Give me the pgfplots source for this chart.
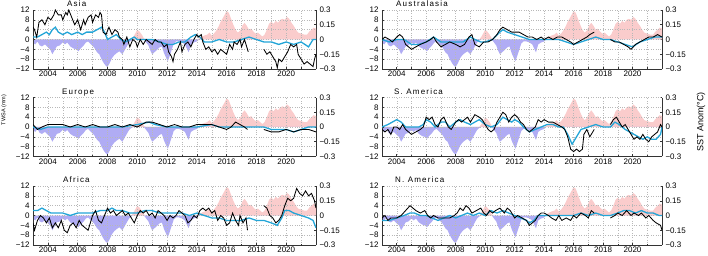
\documentclass[border=0pt]{standalone}
\usepackage{fontspec}
\setmainfont{Liberation Sans}
\newfontfamily\titlefont[LetterSpace=15]{Liberation Sans}
\usepackage{pgfplots}
\usepackage{pgfplotstable}
\pgfplotsset{compat=1.18}
\definecolor{sstpos}{RGB}{250,204,204}
\definecolor{sstneg}{RGB}{176,172,244}
\definecolor{cyanl}{RGB}{35,165,215}

\pgfplotstableread{
t s
2003.00 -0.03
2003.15 -0.05
2003.30 -0.02
2003.45 -0.06
2003.60 -0.07
2003.80 -0.05
2004.00 -0.08
2004.15 -0.10
2004.30 -0.15
2004.45 -0.11
2004.60 -0.07
2004.80 -0.06
2005.00 -0.03
2005.15 -0.05
2005.30 -0.03
2005.50 -0.07
2005.70 -0.09
2005.90 -0.10
2006.05 -0.12
2006.20 -0.09
2006.40 -0.06
2006.55 -0.03
2006.70 -0.02
2006.90 -0.05
2007.10 -0.08
2007.30 -0.13
2007.45 -0.15
2007.60 -0.20
2007.75 -0.24
2007.90 -0.27
2008.00 -0.28
2008.15 -0.24
2008.30 -0.19
2008.45 -0.16
2008.60 -0.14
2008.80 -0.12
2009.00 -0.15
2009.15 -0.11
2009.30 -0.07
2009.45 -0.03
2009.60 -0.01
2009.75 0.03
2009.90 0.07
2010.00 0.10
2010.15 0.08
2010.30 0.05
2010.45 0.01
2010.60 -0.03
2010.75 -0.06
2010.90 -0.12
2011.00 -0.15
2011.15 -0.13
2011.30 -0.11
2011.50 -0.08
2011.65 -0.07
2011.80 -0.14
2011.95 -0.19
2012.05 -0.22
2012.15 -0.18
2012.30 -0.11
2012.45 -0.04
2012.60 -0.02
2012.80 -0.02
2013.00 -0.03
2013.20 -0.05
2013.35 -0.10
2013.45 -0.13
2013.60 -0.05
2013.80 -0.03
2014.00 -0.02
2014.15 0.01
2014.35 0.03
2014.50 0.04
2014.70 0.05
2014.85 0.07
2015.00 0.04
2015.15 0.06
2015.30 0.09
2015.45 0.13
2015.60 0.18
2015.75 0.22
2015.90 0.26
2016.00 0.29
2016.15 0.27
2016.30 0.21
2016.45 0.15
2016.60 0.10
2016.75 0.07
2016.90 0.09
2017.05 0.14
2017.20 0.17
2017.35 0.14
2017.50 0.10
2017.65 0.11
2017.80 0.08
2017.95 0.06
2018.10 0.07
2018.25 0.05
2018.40 0.03
2018.55 0.05
2018.70 0.10
2018.85 0.16
2019.00 0.18
2019.15 0.16
2019.30 0.19
2019.45 0.17
2019.60 0.20
2019.75 0.21
2019.90 0.20
2020.05 0.23
2020.20 0.21
2020.35 0.17
2020.50 0.14
2020.65 0.10
2020.80 0.07
2021.00 0.06
2021.20 0.05
2021.40 0.05
2021.55 0.08
2021.70 0.10
2021.85 0.12
2022.00 0.11
}\sst

% ---------------- Asia
\pgfplotstableread{
t v
2003.0 5
2003.1 4
2003.25 1
2003.4 7
2003.6 8
2003.8 6
2004.0 9
2004.2 8
2004.4 10
2004.5 12
2004.7 10
2004.9 10
2005.0 8
2005.2 11
2005.3 10
2005.4 12
2005.6 9
2005.8 6
2006.0 8
2006.2 4
2006.4 8
2006.5 6
2006.7 9
2006.9 10
2007.0 7
2007.2 10
2007.4 9
2007.5 11
2007.6 10
2007.7 3
2007.9 2
2008.1 5
2008.3 2
2008.5 4
2008.7 3
2008.8 1
2009.0 0
2009.1 -2
2009.3 1
2009.5 -3
2009.7 0
2009.9 -1
2010.0 -3
2010.2 0
2010.4 -2
2010.6 0
2010.8 -1
2011.0 -2
2011.2 0
2011.4 -1
2011.6 -1
2011.8 -3
2012.0 -2
2012.1 -5
2012.3 -7
2012.4 -9
2012.5 -6
2012.7 -4
2012.9 -1
2013.0 -5
2013.2 -2
2013.4 -1
2013.6 -3
2013.8 0
2014.0 2
2014.1 1
2014.3 2
2014.4 -1
2014.6 -4
2014.8 -3
2015.0 -5
2015.2 -4
2015.4 -6
2015.6 -4
2015.8 -5
2016.0 -6
2016.2 -2
2016.4 -4
2016.5 -1
2016.7 -2
2016.9 0
2017.0 -3
2017.2 0
2017.45 -5
2017.9 nan
2018.5 -4
2018.7 -6
2018.9 -5
2019.1 -7
2019.3 -9
2019.4 -11.5
2019.5 -8
2019.7 -9
2019.9 -7
2020.1 -5
2020.3 -2
2020.5 -3
2020.7 -2
2020.8 -6
2021.0 -8
2021.2 -10
2021.4 -9
2021.6 -10
2021.8 -11
2021.9 -8
2022.0 -6
}\asiab
\pgfplotstableread{
t v
2003.0 1
2003.3 1
2003.6 2
2003.9 3
2004.1 2
2004.3 4
2004.5 5
2004.7 3
2005.0 2
2005.3 3
2005.6 2
2006.0 3
2006.3 2
2006.6 3
2007.0 3
2007.3 4
2007.6 5
2007.8 3
2008.0 0
2008.3 1
2008.6 2
2008.9 0
2009.2 -1
2009.5 0
2009.8 1
2010.0 0
2010.5 0
2011.0 0
2011.5 -1
2012.0 -2
2012.4 -2
2012.8 -1
2013.2 -1
2013.6 1
2013.9 2
2014.2 1
2014.5 -1
2015.0 -1
2015.5 0
2016.0 -1
2016.5 -1
2017.0 0
2017.5 1
2018.0 0
2018.5 -1
2019.0 -1
2019.5 -2
2020.0 -1
2020.5 -2
2021.0 -1
2021.5 -3
2021.8 0
2022.0 0
}\asiac

% ---------------- Australasia
\pgfplotstableread{
t v
2003.0 0
2003.2 1
2003.5 0
2003.7 -1
2004.0 1
2004.2 2
2004.4 1
2004.6 -2
2004.8 -3
2005.0 -4
2005.3 -3
2005.6 -2
2006.0 -1
2006.3 0
2006.5 1
2006.7 -1
2007.0 -3
2007.3 -2
2007.6 -1
2008.0 -2
2008.3 -3
2008.6 -2
2008.9 1
2009.1 2
2009.3 -2
2009.6 -3
2009.9 -1
2010.2 -1
2010.5 0
2010.8 2
2011.0 4
2011.2 5
2011.5 4
2011.8 3
2012.0 3
2012.3 3
2012.6 2
2012.9 1
2013.2 1
2013.5 0
2013.8 1
2014.0 0
2014.3 1
2014.6 0
2014.9 1
2015.2 1
2015.5 0
2015.8 -1
2016.0 -2
2016.3 -1
2016.6 0
2016.9 1
2017.1 2
2017.4 3
2017.9 nan
2018.5 0
2018.8 -1
2019.1 -1
2019.4 -2
2019.7 -3
2019.9 -4
2020.2 -2
2020.5 -1
2020.8 0
2021.1 1
2021.4 1
2021.7 2
2022.0 1
}\ausb
\pgfplotstableread{
t v
2003.0 0
2003.5 -1
2004.0 0
2004.5 0
2005.0 -2
2005.5 -2
2006.0 -1
2006.5 1
2007.0 -1
2007.5 -1
2008.0 -1
2008.5 -1
2009.0 1
2009.3 0
2009.7 -1
2010.0 -1
2010.5 0
2011.0 3
2011.2 4
2011.5 3
2012.0 2
2012.5 1
2013.0 0
2013.5 0
2014.0 0
2014.5 0
2015.0 0
2015.5 -1
2016.0 -2
2016.5 -1
2017.0 0
2017.5 1
2018.0 0
2018.5 0
2019.0 -1
2019.5 -2
2020.0 -3
2020.5 -1
2021.0 0
2021.5 1
2022.0 1
}\ausc

% ---------------- Europe
\pgfplotstableread{
t v
2003.0 1
2003.3 -1
2003.6 0
2004.0 1
2004.5 1
2005.0 1
2005.5 0
2006.0 1
2006.5 0
2007.0 1
2007.5 0
2008.0 0
2008.5 1
2009.0 0
2009.5 1
2010.0 0
2010.3 1
2010.6 2
2011.0 2
2011.5 1
2012.0 0
2012.5 1
2013.0 0
2013.5 0
2014.0 1
2014.5 1
2015.0 1
2015.5 0
2016.0 -1
2016.3 0
2016.6 2
2016.9 1
2017.2 0
2017.4 -1
2017.9 nan
2018.5 -1
2019.0 -2
2019.5 -2
2020.0 -1
2020.5 -2
2021.0 -1
2021.5 -1
2022.0 -2
}\eurb
\pgfplotstableread{
t v
2003.0 0
2003.5 -1
2004.0 0
2005.0 0
2006.0 0
2007.0 0
2008.0 0
2009.0 0
2010.0 1
2010.8 2
2011.2 1
2012.0 0
2013.0 0
2014.0 0
2015.0 1
2015.5 0
2016.0 0
2016.5 0
2017.0 0
2017.5 0
2018.0 0
2018.5 0
2019.0 -1
2019.5 -1
2020.0 -1
2020.5 -2
2021.0 -1
2021.5 0
2022.0 0
}\eurc

% ---------------- S. America
\pgfplotstableread{
t v
2003.0 -1
2003.2 -2
2003.4 -1
2003.6 -3
2003.8 0
2004.0 0
2004.2 -1
2004.4 1
2004.6 -1
2004.8 -2
2005.0 -3
2005.3 -2
2005.6 -1
2005.8 0
2006.0 4
2006.2 3
2006.4 4
2006.6 1
2006.8 0
2007.0 3
2007.2 4
2007.5 0
2007.7 -1
2008.0 2
2008.2 3
2008.4 2
2008.6 3
2008.8 4
2009.0 2
2009.3 5
2009.6 4
2009.8 3
2010.0 1
2010.2 -1
2010.4 -2
2010.6 -1
2010.8 2
2011.0 4
2011.2 6
2011.4 5
2011.6 2
2011.8 4
2012.0 5
2012.2 4
2012.4 2
2012.6 1
2012.8 -1
2013.0 -2
2013.2 -1
2013.4 0
2013.6 3
2013.8 2
2014.0 3
2014.3 2
2014.6 2
2014.9 1
2015.2 0
2015.4 -1
2015.6 -4
2015.8 -9
2016.0 -10
2016.2 -9
2016.4 -10
2016.6 -9
2016.7 -3
2016.9 -1
2017.1 -4
2017.4 -1
2017.9 nan
2018.5 1
2018.7 3
2018.9 4
2019.1 2
2019.3 0
2019.5 1
2019.7 -1
2019.9 -3
2020.1 -5
2020.3 -4
2020.5 -5
2020.7 -3
2020.9 -5
2021.1 -6
2021.3 -4
2021.5 -3
2021.7 -2
2021.9 1
2022.0 0
}\samb
\pgfplotstableread{
t v
2003.0 0
2003.4 1
2003.7 2
2004.0 3
2004.3 2
2004.6 0
2005.0 0
2005.5 0
2005.8 1
2006.0 3
2006.3 2
2006.6 0
2007.0 2
2007.3 2
2007.6 0
2008.0 2
2008.3 3
2008.6 2
2009.0 1
2009.3 2
2009.6 3
2010.0 1
2010.4 0
2010.8 1
2011.2 4
2011.5 3
2011.8 2
2012.0 3
2012.3 2
2012.6 0
2013.0 -2
2013.4 -1
2013.8 0
2014.2 1
2014.6 1
2015.0 0
2015.3 0
2015.6 -3
2015.9 -7
2016.2 -4
2016.5 -1
2017.0 0
2017.5 1
2018.0 0
2018.5 0
2018.8 2
2019.1 1
2019.5 -1
2019.8 -2
2020.1 -3
2020.4 -4
2020.7 -5
2021.0 -4
2021.3 -5
2021.6 -5
2021.9 -3
2022.0 0
}\samc

% ---------------- Africa
\pgfplotstableread{
t v
2003.0 -3
2003.1 -6
2003.3 -2
2003.5 0
2003.7 -1
2003.9 -3
2004.1 -1
2004.3 -5
2004.5 -3
2004.7 -5
2004.9 -2
2005.1 -6
2005.3 -7
2005.5 -4
2005.7 -3
2005.9 -5
2006.1 -2
2006.3 -4
2006.5 -5
2006.7 -6
2006.8 -4
2007.0 0
2007.2 2
2007.4 -2
2007.6 -3
2007.8 0
2008.0 3
2008.2 1
2008.4 2
2008.6 0
2008.8 1
2009.0 2
2009.2 0
2009.4 1
2009.6 -1
2009.8 -3
2010.0 0
2010.2 2
2010.4 1
2010.6 2
2010.8 0
2011.0 1
2011.2 -1
2011.4 2
2011.6 1
2011.8 0
2012.0 -2
2012.2 0
2012.4 -1
2012.6 0
2012.8 2
2013.0 1
2013.2 0
2013.4 -3
2013.6 -2
2013.8 0
2014.0 -1
2014.2 2
2014.4 3
2014.6 2
2014.8 3
2015.0 1
2015.2 2
2015.4 -2
2015.6 0
2015.8 -1
2016.0 -4
2016.2 -3
2016.4 1
2016.6 -2
2016.8 -4
2016.9 0
2017.1 -3
2017.3 -1
2017.4 -6
2017.9 nan
2018.5 4
2018.7 3
2018.9 0
2019.1 -1
2019.3 -3
2019.5 -2
2019.7 0
2019.9 4
2020.1 7
2020.3 6
2020.5 7
2020.7 11
2020.9 9
2021.1 8
2021.3 10
2021.5 8
2021.7 9
2021.9 6
2022.0 3
}\afrb
\pgfplotstableread{
t v
2003.0 2
2003.3 2
2003.6 3
2003.9 2
2004.2 1
2004.5 1
2005.0 1
2005.5 0
2006.0 1
2006.5 1
2007.0 1
2007.5 2
2008.0 2
2008.3 3
2008.6 2
2009.0 2
2009.5 1
2010.0 1
2010.5 2
2011.0 2
2011.5 1
2012.0 1
2012.5 1
2013.0 1
2013.5 0
2014.0 1
2014.5 0
2015.0 -1
2015.5 -1
2016.0 -2
2016.5 -2
2017.0 -2
2017.5 -1
2018.0 -2
2018.5 -2
2019.0 -3
2019.4 -4
2019.7 -1
2019.9 2
2020.2 2
2020.5 1
2021.0 0
2021.5 -1
2021.8 -2
2022.0 -5
}\afrc

% ---------------- N. America
\pgfplotstableread{
t v
2003.0 -1
2003.2 0
2003.4 -2
2003.6 -1
2004.0 -1
2004.3 0
2004.6 2
2004.9 4
2005.1 3
2005.3 2
2005.6 1
2005.9 2
2006.1 0
2006.3 -1
2006.5 0
2006.8 -1
2007.0 -1
2007.3 -1
2007.6 -1
2007.9 0
2008.1 1
2008.3 3
2008.5 2
2008.7 4
2008.9 3
2009.1 1
2009.4 2
2009.7 3
2009.9 1
2010.1 0
2010.3 2
2010.5 1
2010.7 2
2011.0 3
2011.3 1
2011.5 3
2011.7 2
2012.0 -1
2012.2 0
2012.5 -1
2012.8 -2
2013.0 -4
2013.2 -3
2013.4 -2
2013.6 0
2013.8 1
2014.0 1
2014.3 0
2014.5 -1
2014.8 -2
2015.0 0
2015.2 -2
2015.5 -1
2015.8 -2
2016.0 0
2016.2 -1
2016.5 1
2016.8 0
2017.0 -1
2017.2 2
2017.4 1
2017.9 nan
2018.5 -1
2018.8 0
2019.0 1
2019.3 0
2019.6 2
2019.9 0
2020.1 1
2020.4 0
2020.6 1
2020.9 -1
2021.1 0
2021.4 -2
2021.6 -3
2021.9 -4
2022.0 -6
}\namb
\pgfplotstableread{
t v
2003.0 -2
2003.5 -2
2004.0 -1
2004.5 0
2004.9 1
2005.2 1
2005.6 0
2006.0 0
2006.4 -1
2006.8 -2
2007.2 -1
2007.6 0
2008.0 -1
2008.4 0
2008.8 1
2009.2 0
2009.6 1
2010.0 0
2010.4 2
2010.8 1
2011.2 2
2011.6 1
2012.0 0
2012.4 -1
2012.8 -2
2013.0 -3
2013.3 -2
2013.6 0
2014.0 0
2014.5 0
2015.0 0
2015.5 0
2016.0 0
2016.5 1
2017.0 0
2017.5 1
2018.0 0
2018.5 0
2019.0 1
2019.4 2
2019.8 2
2020.2 1
2020.6 2
2021.0 1
2021.4 1
2021.8 0
2022.0 0
}\namc

\pgfplotsset{
  common/.style={scale only axis, height=59pt, xmin=2003, xmax=2022,
    anchor=south west,
    axis line style={-, black!80, line width=0.6pt},
    tick style={black!80, line width=0.5pt},
    ticklabel style={font=\fontsize{8}{9}\selectfont},
    tick align=inside, major tick length=2pt, minor tick length=1.5pt},
  sstax/.style={common, ymin=-0.3, ymax=0.3,
    axis x line=none, axis y line*=right,
    ytick={-0.3,-0.15,0,0.15,0.3},
    yticklabels={−0.3,−0.15,0,0.15,0.3}},
  twsaax/.style={common, ymin=-12, ymax=12,
    axis x line*=bottom, axis y line*=left,
    xtick={2004,2006,2008,2010,2012,2014,2016,2018,2020},
    xticklabels={2004,2006,2008,2010,2012,2014,2016,2018,2020},
    minor xtick={2003,2005,2007,2009,2011,2013,2015,2017,2019,2021},
    ytick={-12,-8,-4,0,4,8,12},
    yticklabels={−12,−8,−4,0,4,8,12},
    xticklabel style={yshift=1.5pt},
    grid=both,
    major grid style={dotted, black!28, line width=0.4pt},
    minor grid style={dotted, black!28, line width=0.4pt}},
}

\newcommand\panel[7]{%
  \begin{axis}[sstax, at={(#1pt,-#2pt)}, width=#3pt]
    \addplot[draw=none, fill=sstpos] table[x=t, y expr={max(\thisrow{s},0)}] {\sst} \closedcycle;
    \addplot[draw=none, fill=sstneg] table[x=t, y expr={min(\thisrow{s},0)}] {\sst} \closedcycle;
  \end{axis}
  \begin{axis}[twsaax, at={(#1pt,-#2pt)}, width=#3pt]
    \addplot[cyanl, line width=1.3pt] table[x=t, y=v] {#7};
    \addplot[black, line width=0.85pt, unbounded coords=jump] table[x=t, y=v] {#6};
  \end{axis}
  \node[anchor=base west, font=\titlefont\fontsize{8}{9}\selectfont, inner sep=0pt] at (#4pt,-#2pt+62pt) {#5};
}

\begin{document}
\begin{tikzpicture}
\useasboundingbox (0,0) rectangle (708pt,-256pt);
\panel{33}{69}{283}{67}{Asia}{\asiab}{\asiac}
\panel{382}{69}{280}{396}{Australasia}{\ausb}{\ausc}
\panel{33}{156.5}{283}{62}{Europe}{\eurb}{\eurc}
\panel{382}{156.5}{280}{394}{S. America}{\samb}{\samc}
\panel{33}{245}{283}{63}{Africa}{\afrb}{\afrc}
\panel{382}{245}{280}{395}{N. America}{\namb}{\namc}
\node[rotate=90, font=\fontsize{5.5}{6}\selectfont] at (4pt,-110pt) {TWSA (mm)};
\node[rotate=90, font=\fontsize{9}{10}\selectfont] at (701pt,-122pt) {SST Anom(°C)};
\end{tikzpicture}
\end{document}
